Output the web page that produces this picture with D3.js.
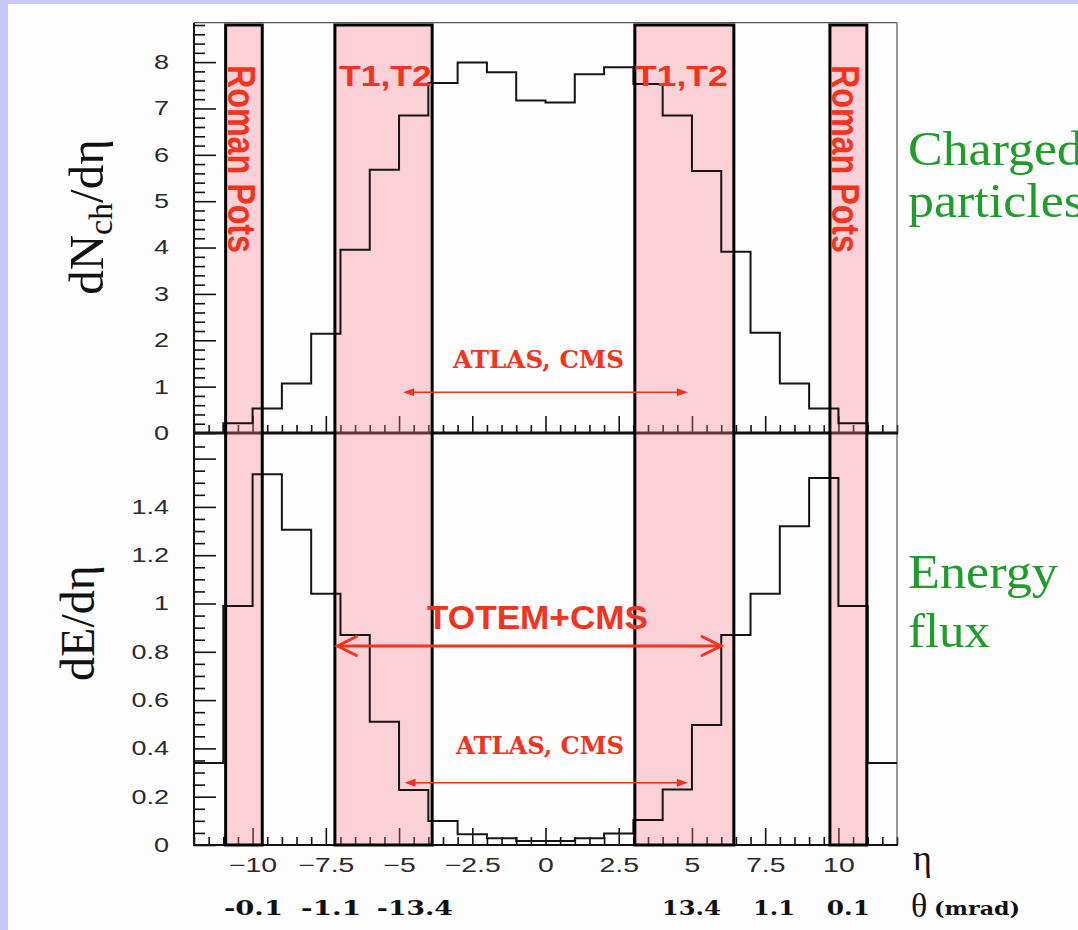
<!DOCTYPE html>
<html>
<head>
<meta charset="utf-8">
<script src="https://cdn.jsdelivr.net/npm/d3@7"></script>
<style>
  body { margin: 0; background: #c8c8f8; }
  svg { display: block; }
</style>
</head>
<body>
<div id="chart"></div>
<script>
// pseudorapidity bins (lower edge, width 1)
const binStart = [-12,-11,-10,-9,-8,-7,-6,-5,-4,-3,-2,-1,0,1,2,3,4,5,6,7,8,9,10,11]
const dNchdEta = [0, 0.21, 0.53, 1.07, 2.14, 3.95, 5.68, 6.85, 7.55, 7.99, 7.78, 7.17,
                  7.13, 7.74, 7.89, 7.53, 6.85, 5.65, 3.91, 2.16, 1.07, 0.53, 0.21, 0]
const dEdEta = [0.34, 0.99, 1.535, 1.305, 1.04, 0.87, 0.51, 0.228, 0.099, 0.045, 0.028, 0.017,
                0.017, 0.028, 0.048, 0.104, 0.23, 0.497, 0.87, 1.04, 1.32, 1.52, 0.99, 0.34]

// detector acceptance (eta ranges) as drawn
const romanPots = [[-10.92, -9.67], [9.71, 10.97]]
const t1t2 = [[-7.19, -3.87], [3.05, 6.43]]

// axis ticks
const etaTicks = [-10, -7.5, -5, -2.5, 0, 2.5, 5, 7.5, 10]
const dnTicks = [0, 1, 2, 3, 4, 5, 6, 7, 8]
const deTicks = [0, 0.2, 0.4, 0.6, 0.8, 1, 1.2, 1.4, 1.6]
const deLabels = ["0", "0.2", "0.4", "0.6", "0.8", "1", "1.2", "1.4", ""]

// theta (mrad) labels and where they sit on the eta axis
const thetaLabels = ["-0.1", "-1.1", "-13.4", "13.4", "1.1", "0.1"]
const thetaAt = [-9.97, -7.32, -4.46, 4.98, 7.8, 10.34]
const thetaWidth = [59, 60, 76, 59, 42, 43]

const red = "#f2331d"
const green = "#1f9c2a"

const svg = d3.select("#chart").append("svg")
  .attr("width", 1078)
  .attr("height", 930)

svg.append("rect").attr("width", 1078).attr("height", 930).attr("fill", "#c8c8f8")
svg.append("rect").attr("x", 8).attr("y", 4).attr("width", 1070).attr("height", 926).attr("fill", "#fdfdfd")

const x = d3.scaleLinear().domain([-12, 12]).range([194, 897])
const yTop = d3.scaleLinear().domain([0, 8.85]).range([433, 22.7])
const yBot = d3.scaleLinear().domain([0, 1.706]).range([845, 433])

function stretch(sel, s) {
  sel.each(function() {
    const L = this.getComputedTextLength()
    this.setAttribute("textLength", L * s)
    this.setAttribute("lengthAdjust", "spacingAndGlyphs")
  })
}
function fitTo(sel, len) {
  sel.attr("textLength", len).attr("lengthAdjust", "spacingAndGlyphs")
}

// y axes
function yAxis(scale, majors, labels, minorStep, top) {
  const g = svg.append("g").attr("transform", "translate(194,0)")
  const minors = d3.range(0, top, minorStep).filter(v => !majors.some(m => Math.abs(m - v) < 1e-6))
  g.append("g").call(d3.axisLeft(scale).tickValues(minors).tickSize(-11).tickFormat(""))
  const maj = g.append("g").call(d3.axisLeft(scale).tickValues(majors).tickSize(-22).tickPadding(25)
    .tickFormat((d, i) => labels[i]))
  g.selectAll(".domain").remove()
  g.selectAll("line").attr("stroke", "#111").attr("stroke-width", 1.6)
  maj.selectAll("text")
    .attr("font-family", "Liberation Sans, Arial, sans-serif")
    .attr("font-size", 20).attr("fill", "#2b2b2b")
    .call(stretch, 1.35)
}
yAxis(yTop, dnTicks, dnTicks.map(String), 0.2, 8.85)
yAxis(yBot, deTicks, deLabels, 0.05, 1.7)

// x axes (ticks point up)
function xAxis(y0, withLabels) {
  const g = svg.append("g").attr("transform", `translate(0,${y0})`)
  const minors = d3.range(-12, 12.01, 0.5).filter(v => !etaTicks.includes(v))
  g.append("g").call(d3.axisBottom(x).tickValues(minors).tickSize(-8).tickFormat(""))
  const maj = g.append("g").call(d3.axisBottom(x).tickValues(etaTicks).tickSize(-17).tickPadding(13)
    .tickFormat(d => withLabels ? (d < 0 ? "\u2212" + Math.abs(d) : String(d)) : ""))
  g.selectAll(".domain").remove()
  g.selectAll("line").attr("stroke", "#111").attr("stroke-width", 1.6)
  if (withLabels) {
    maj.selectAll("text")
      .attr("font-family", "Liberation Sans, Arial, sans-serif")
      .attr("font-size", 20).attr("fill", "#2b2b2b")
      .call(stretch, 1.42)
  }
}
xAxis(433, false)
xAxis(845, true)

// frame
svg.append("line").attr("x1", 194).attr("x2", 897).attr("y1", 22.7).attr("y2", 22.7)
  .attr("stroke", "#555").attr("stroke-width", 1.2)
svg.append("line").attr("x1", 897).attr("x2", 897).attr("y1", 22.7).attr("y2", 845)
  .attr("stroke", "#555").attr("stroke-width", 1.2)
svg.append("line").attr("x1", 194).attr("x2", 194).attr("y1", 22.7).attr("y2", 846)
  .attr("stroke", "#111").attr("stroke-width", 2)
svg.append("line").attr("x1", 193).attr("x2", 898).attr("y1", 433).attr("y2", 433)
  .attr("stroke", "#111").attr("stroke-width", 3)
svg.append("line").attr("x1", 193).attr("x2", 898).attr("y1", 845).attr("y2", 845)
  .attr("stroke", "#111").attr("stroke-width", 2)

// detector zones (translucent pink)
const boxes = romanPots.concat(t1t2)
const boxTop = 25
svg.selectAll("rect.zone").data(boxes).enter().append("rect")
  .attr("class", "zone")
  .attr("x", d => x(d[0])).attr("width", d => x(d[1]) - x(d[0]))
  .attr("y", boxTop).attr("height", yBot(0) - boxTop)
  .attr("fill", "rgb(245,120,142)").attr("fill-opacity", 0.34)

// histograms
function histo(values, y) {
  const pts = binStart.map((b, i) => [b, values[i]])
  pts.push([12, values[values.length - 1]])
  const line = d3.line().x(d => x(d[0])).y(d => y(d[1])).curve(d3.curveStepAfter)
  svg.append("path").attr("d", line(pts))
    .attr("fill", "none").attr("stroke", "#151515").attr("stroke-width", 2)
}
histo(dNchdEta, yTop)
histo(dEdEta, yBot)

svg.selectAll("rect.box").data(boxes).enter().append("rect")
  .attr("class", "box")
  .attr("x", d => x(d[0])).attr("width", d => x(d[1]) - x(d[0]))
  .attr("y", boxTop).attr("height", yBot(0) - boxTop)
  .attr("fill", "none").attr("stroke", "#000").attr("stroke-width", 3)

// labels inside boxes
romanPots.forEach(r => {
  svg.append("text")
    .attr("transform", `translate(${x(r[0]) + 2},65) scale(1.2,1) rotate(90)`)
    .attr("font-family", "Liberation Sans, Arial, sans-serif").attr("font-weight", "bold")
    .attr("font-size", 32).attr("fill", red)
    .text("Roman Pots")
    .call(fitTo, 188)
})
t1t2.forEach((r, i) => {
  svg.append("text")
    .attr("x", i === 0 ? x(r[0]) + 4 : x(r[0]))
    .attr("y", 86)
    .attr("font-family", "Liberation Sans, Arial, sans-serif").attr("font-weight", "bold")
    .attr("font-size", 30).attr("fill", red)
    .text("T1,T2")
    .call(fitTo, 93)
})

// arrows
function thinArrow(y, e0, e1) {
  const x0 = x(e0), x1 = x(e1)
  svg.append("line").attr("x1", x0 + 6).attr("x2", x1 - 6).attr("y1", y).attr("y2", y)
    .attr("stroke", red).attr("stroke-width", 1.6)
  svg.append("path").attr("d", `M${x0},${y}l11,-4l0,8z M${x1},${y}l-11,-4l0,8z`).attr("fill", red)
}
function bigArrow(y, e0, e1) {
  const x0 = x(e0), x1 = x(e1)
  svg.append("line").attr("x1", x0 + 1).attr("x2", x1 - 1).attr("y1", y).attr("y2", y)
    .attr("stroke", red).attr("stroke-width", 3)
  svg.append("path")
    .attr("d", `M${x0 + 20},${y - 10}L${x0},${y}L${x0 + 20},${y + 10} M${x1 - 20},${y - 10}L${x1},${y}L${x1 - 20},${y + 10}`)
    .attr("fill", "none").attr("stroke", red).attr("stroke-width", 3)
}
thinArrow(yTop(0.88), -4.86, 4.86)
thinArrow(yBot(0.258), -4.81, 4.86)
bigArrow(yBot(0.824), -7.1, 5.99)

function slabText(xx, yy, txt, size, len, fill) {
  return svg.append("text").attr("x", xx).attr("y", yy)
    .attr("font-family", "DejaVu Serif, serif").attr("font-weight", "bold")
    .attr("font-size", size).attr("fill", fill)
    .text(txt).call(fitTo, len)
}
slabText(453, 368, "ATLAS, CMS", 25, 171, red)
slabText(456, 754, "ATLAS, CMS", 24, 168, red)

svg.append("text").attr("x", 427).attr("y", 629)
  .attr("font-family", "Liberation Sans, Arial, sans-serif").attr("font-weight", "bold")
  .attr("font-size", 33).attr("fill", red)
  .text("TOTEM+CMS").call(fitTo, 221)

// theta row
thetaLabels.forEach((t, i) => {
  slabText(x(thetaAt[i]) - thetaWidth[i] / 2, 915, t, 21, thetaWidth[i], "#111")
})

// axis names
const serif = "Liberation Serif, Times New Roman, serif"
const yl1 = svg.append("text")
  .attr("transform", "translate(103,217) rotate(-90)")
  .attr("text-anchor", "middle")
  .attr("font-family", serif).attr("font-size", 49).attr("fill", "#111")
yl1.append("tspan").text("dN")
yl1.append("tspan").attr("font-size", 34).attr("dy", 9).text("ch")
yl1.append("tspan").attr("dy", -9).text("/d\u03b7")

svg.append("text")
  .attr("transform", "translate(94,623) rotate(-90)")
  .attr("text-anchor", "middle")
  .attr("font-family", serif).attr("font-size", 48).attr("fill", "#111")
  .text("dE/d\u03b7")

svg.append("text").attr("x", 913).attr("y", 870)
  .attr("font-family", serif).attr("font-size", 36).attr("fill", "#111").text("\u03b7")
svg.append("text").attr("x", 911).attr("y", 917)
  .attr("font-family", serif).attr("font-size", 34).attr("fill", "#111").text("\u03b8")
slabText(934, 915, "(mrad)", 18, 86, "#111")

// side captions
const captions = [["Charged", 165, 175], ["particles", 217, 176], ["Energy", 588, 150], ["flux", 647, 82]]
captions.forEach(c => {
  svg.append("text").attr("x", 908).attr("y", c[1])
    .attr("font-family", serif).attr("font-size", 48).attr("fill", green)
    .text(c[0]).call(fitTo, c[2])
})
</script>
</body>
</html>
